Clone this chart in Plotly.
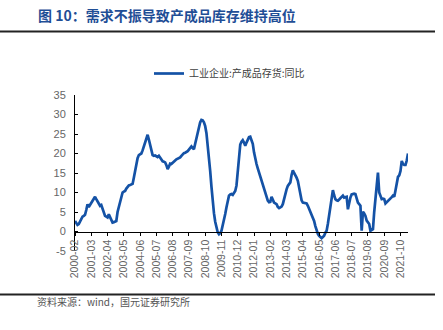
import pandas as pd
import plotly.graph_objects as go

# ---- data ----
start_month = "2000-02"
values = [
    2.7, 2.2, 1.7, 1.9, 2.6, 3.3, 3.8, 4.0, 4.3, 5.5,
    7.0, 6.3, 6.8, 7.4, 7.9, 8.4, 8.9, 8.3, 7.6, 7.0,
    6.6, 6.8, 5.8, 5.0, 4.0, 3.8, 3.6, 4.4, 3.6, 2.7,
    2.3, 2.4, 2.5, 2.7, 5.0, 6.3, 7.4, 8.7, 10.0, 10.2,
    10.4, 11.0, 11.5, 11.8, 11.9, 12.0, 12.2, 13.8, 15.6, 17.5,
    18.8, 19.6, 19.9, 20.0, 20.8, 21.7, 22.5, 23.6, 24.8, 23.6,
    22.2, 20.5, 19.6, 19.4, 19.5, 19.3, 19.1, 19.4, 18.8, 18.3,
    18.0, 17.9, 17.7, 17.0, 16.0, 16.6, 17.4, 17.3, 17.7, 17.9,
    18.2, 18.5, 18.6, 18.8, 19.0, 19.4, 19.9, 20.1, 20.2, 20.3,
    20.6, 21.0, 21.4, 21.8, 21.4, 21.1, 22.5, 24.0, 25.6, 27.0,
    28.0, 28.6, 28.5, 28.0, 27.0, 25.2, 22.5, 19.5, 15.5, 11.5,
    7.5, 4.7, 2.5, 1.0, -0.2, -0.7, -0.4, 0.2, 1.5, 2.7,
    4.5, 6.2, 7.8, 9.2, 9.5, 9.6, 9.4, 9.8, 10.4, 11.8,
    15.5, 19.5, 22.3, 23.0, 23.4, 22.8, 22.0, 22.8, 23.7, 24.2,
    24.3, 23.5, 22.5, 20.3, 18.5, 17.3, 16.2, 15.1, 14.0, 13.0,
    12.0, 11.2, 10.0, 8.9, 7.9, 7.5, 7.6, 8.9, 8.0, 7.4,
    7.2, 7.0, 6.3, 6.0, 6.2, 6.4, 7.0, 8.5, 10.0, 10.8,
    11.7, 12.2, 12.6, 14.5, 15.7, 15.0, 14.5, 13.8, 13.0, 11.0,
    9.2, 8.0, 7.4, 7.3, 7.4, 7.2, 6.6, 5.8, 5.1, 4.6,
    3.8, 2.7, 1.4, 0.0, -0.6, -1.1, -1.5, -1.7, -1.4, -1.1,
    -0.3, 0.2, 2.0, 4.0, 6.8, 8.5, 10.6, 9.3, 8.3, 8.0,
    7.9, 8.2, 8.5, 9.0, 9.2, 8.7, 8.8, 8.9, 5.7, 7.5,
    8.7, 9.5, 9.7, 9.7, 9.6, 8.5, 7.4, 7.0, 6.6, 0.2,
    5.1, 4.6, 4.0, 2.8, 2.2, 1.9, 0.2, 0.4, 0.6, 5.0,
    9.0, 12.5, 15.1, 10.0, 9.0, 8.3, 8.4, 8.3, 7.2, 7.5,
    7.9, 8.1, 8.3, 8.8, 9.2, 8.9, 10.5, 12.5, 14.0, 14.4,
    15.5, 18.1, 17.3, 17.1, 17.1, 18.2, 20.0,
]
months = list(pd.date_range(start_month, periods=len(values), freq="MS").strftime("%Y-%m"))
tick_labels = months[::13]
y_ticks = [-5, 0, 5, 10, 15, 20, 25, 30, 35]
y_tick_text = ["-5", "0", "5", "10", "15", "20", "25", "30", "35"]

series_name = "工业企业:产成品存货:同比"
title_text = "图 10：需求不振导致产成品库存维持高位"
source_text = "资料来源：wind，国元证券研究所"

# ---- figure ----
W, H = 443, 330
L, R, T, B = 75, 35, 95, 79
pw, ph = W - L - R, H - T - B

def px_x(p):
    return (p - L) / pw

def px_y(p):
    return (H - B - p) / ph

cjk = "Noto Sans CJK SC"
latin = "Liberation Sans, Arial, sans-serif"

fig = go.Figure()
fig.add_trace(go.Scatter(
    x=months, y=values, mode="lines", name=series_name,
    line=dict(color="#1452a6", width=2.7),
))

ymin, ymax = y_ticks[0], y_ticks[-1]
fig.update_layout(
    width=W, height=H,
    margin=dict(l=L, r=R, t=T, b=B),
    paper_bgcolor="white", plot_bgcolor="white",
    showlegend=True,
    legend=dict(
        x=px_x(149), y=px_y(59), xanchor="left", yanchor="top",
        orientation="h", bgcolor="rgba(0,0,0,0)",
        font=dict(family=cjk, size=10, color="#404040"),
        itemwidth=30,
    ),
    xaxis=dict(
        type="category", range=[0, len(values) - 1],
        tickmode="array", tickvals=tick_labels, ticktext=tick_labels,
        tickangle=-90, anchor="free", position=(0 - ymin) / (ymax - ymin),
        showline=True, linecolor="#000000", linewidth=1,
        ticks="outside", ticklen=3, tickcolor="#000000",
        showgrid=False, zeroline=False,
        tickfont=dict(family=latin, size=10.5, color="#666666"),
    ),
    yaxis=dict(
        range=[ymin, ymax], tickmode="array", tickvals=y_ticks, ticktext=y_tick_text,
        showline=True, linecolor="#000000", linewidth=1,
        ticks="inside", ticklen=3, tickcolor="#000000",
        showgrid=False, zeroline=False,
        tickfont=dict(family=latin, size=11, color="#666666"),
        ticklabelstandoff=6,
    ),
    font=dict(family=latin),
)

# title and rules
fig.add_annotation(
    xref="paper", yref="paper", x=px_x(36), y=px_y(15),
    xanchor="left", yanchor="middle", showarrow=False,
    text="<b>" + title_text + "</b>",
    font=dict(family=cjk, size=14, color="#1f4e96"),
)
fig.add_shape(type="line", xref="paper", yref="paper",
              x0=px_x(0), x1=px_x(435), y0=px_y(31.5), y1=px_y(31.5),
              line=dict(color="#222222", width=2))
fig.add_shape(type="line", xref="paper", yref="paper",
              x0=px_x(0), x1=px_x(435), y0=px_y(294.5), y1=px_y(294.5),
              line=dict(color="#222222", width=2))
fig.add_annotation(
    xref="paper", yref="paper", x=px_x(35), y=px_y(301),
    xanchor="left", yanchor="middle", showarrow=False,
    text=source_text,
    font=dict(family=cjk, size=10, color="#555555"),
)

fig.write_html("out.html")
